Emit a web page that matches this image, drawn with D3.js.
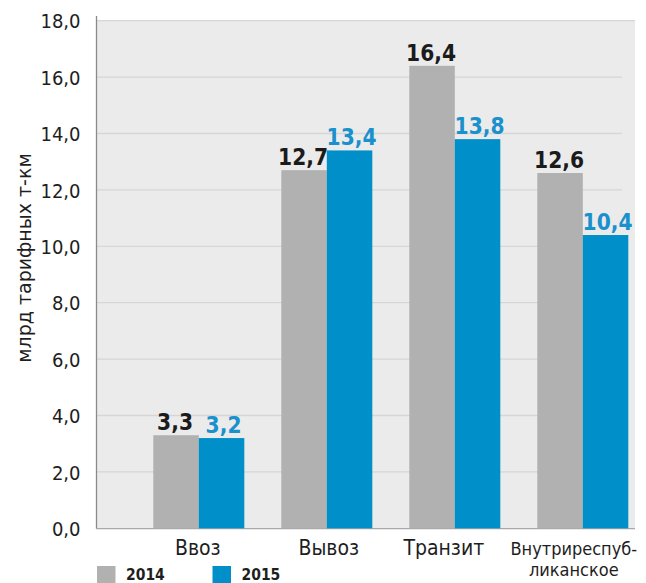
<!DOCTYPE html>
<html><head><meta charset="utf-8">
<script src="https://cdn.jsdelivr.net/npm/d3@7"></script>
<style>body{margin:0;background:#fff}svg{display:block}</style>
</head><body>
<svg id="c" width="646" height="583"></svg>
<script>
const categories = ["Ввоз", "Вывоз", "Транзит", "Внутриреспуб-\nликанское"];
const series = ["2014", "2015"];
const values2014 = [3.3, 12.7, 16.4, 12.6];
const values2015 = [3.2, 13.4, 13.8, 10.4];
const yTicks = [0, 2, 4, 6, 8, 10, 12, 14, 16, 18];
const yTitle = "млрд тарифных т-км";

const colors = {"2014": "#b0b1b0", "2015": "#008fc8"};
const labelColors = {"2014": "#1b1b1b", "2015": "#1a90cc"};
const font = "'DejaVu Sans Condensed','DejaVu Sans',sans-serif";

const svg = d3.select("#c");
const y = d3.scaleLinear().domain([0, 18]).range([528.3, 20.7]);
const x = d3.scaleBand().domain(categories).range([134.8, 646.8]).paddingInner(37/128).paddingOuter(37/256);
const xs = d3.scaleBand().domain(series).range([0, x.bandwidth()]);

// background
svg.append("rect").attr("x", 97).attr("y", y(18)).attr("width", 538).attr("height", y(0) - y(18)).attr("fill", "#ebebeb");

// gridlines
svg.append("g").selectAll("line").data(yTicks.filter(d => d > 0)).join("line")
  .attr("x1", 97).attr("x2", d => d === 18 ? 635 : 622)
  .attr("y1", d => y(d)).attr("y2", d => y(d))
  .attr("stroke", "#d6d6d6").attr("stroke-width", 1.3);

// y axis
const yAxis = d3.axisLeft(y).tickValues(yTicks).tickSize(0).tickPadding(16)
  .tickFormat(d => d3.format(".1f")(d).replace(".", ","));
const ga = svg.append("g").attr("transform", "translate(96.5,0)").call(yAxis);
ga.select(".domain").remove();
ga.selectAll("text").attr("font-family", font).attr("font-size", 20).attr("fill", "#1e1e1e").attr("dy", "0.36em");
svg.append("line").attr("x1", 96.5).attr("x2", 96.5).attr("y1", 16).attr("y2", y(0) + 0.5).attr("stroke", "#8a8a8a").attr("stroke-width", 1.3);
svg.append("line").attr("x1", 96).attr("x2", 635).attr("y1", y(0) + 0.3).attr("y2", y(0) + 0.3).attr("stroke", "#a8a8a8").attr("stroke-width", 1.2);

// bars
const rows = categories.map((c, i) => ({c, v: {"2014": values2014[i], "2015": values2015[i]}}));
const gBars = svg.append("g");
rows.forEach(r => {
  series.forEach(s => {
    gBars.append("rect")
      .attr("x", x(r.c) + xs(s)).attr("width", xs.bandwidth())
      .attr("y", y(r.v[s])).attr("height", y(0) - y(r.v[s]))
      .attr("fill", colors[s]);
    gBars.append("text")
      .attr("x", x(r.c) + xs(s) + xs.bandwidth() / 2 + (s === "2015" ? 2 : -1))
      .attr("y", y(r.v[s]) - 5)
      .attr("text-anchor", "middle").attr("font-family", font).attr("font-weight", "bold")
      .attr("font-size", 22.5).attr("fill", labelColors[s])
      .text(d3.format(".1f")(r.v[s]).replace(".", ","));
  });
});

// category labels
const catOffsets = [-1, 2, -11, -9];
categories.forEach((c, i) => {
  const lines = c.split("\n");
  const t = svg.append("text").attr("text-anchor", "middle").attr("font-family", font)
    .attr("font-size", lines.length > 1 ? 18 : 21).attr("fill", "#1e1e1e")
    .attr("x", x(c) + x.bandwidth() / 2 + catOffsets[i]).attr("y", 555);
  lines.forEach((l, j) => t.append("tspan").attr("x", x(c) + x.bandwidth() / 2 + catOffsets[i]).attr("dy", j ? 21 : 0).text(l));
});

// y title
svg.append("text").attr("transform", "translate(31,258) rotate(-90)").attr("text-anchor", "middle")
  .attr("font-family", "'DejaVu Sans',sans-serif").attr("font-size", 19).attr("fill", "#1e1e1e").text(yTitle);

// legend
const legX = [97, 212.5];
series.forEach((s, i) => {
  svg.append("rect").attr("x", legX[i]).attr("y", 566).attr("width", 18.5).attr("height", 17).attr("fill", colors[s]);
  svg.append("text").attr("x", legX[i] + 29).attr("y", 579.5).attr("font-family", font).attr("font-weight", "bold")
    .attr("font-size", 15.5).attr("fill", "#1e1e1e").text(s);
});
</script>
</body></html>
